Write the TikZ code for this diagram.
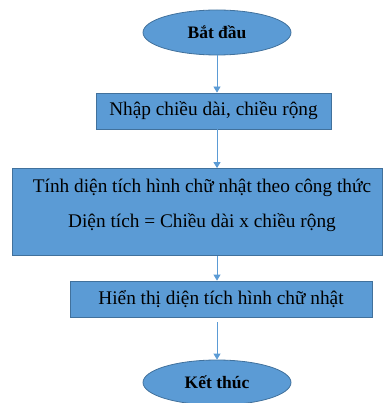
\documentclass[tikz,border=0pt]{standalone}
\usepackage{fontspec}
\setmainfont{Liberation Serif}
\usetikzlibrary{shapes.geometric,arrows.meta}
\definecolor{fillb}{HTML}{5B9BD5}
\definecolor{edgeb}{HTML}{41719C}
\begin{document}
\begin{tikzpicture}[x=1pt,y=-1pt,
 term/.style={ellipse, draw=edgeb, fill=fillb, line width=0.8pt, minimum width=148pt, minimum height=45pt, inner sep=0pt, font=\fontsize{17.5}{17.5}\selectfont\bfseries},
 proc/.style={rectangle, draw=edgeb, fill=fillb, line width=0.8pt, inner sep=0pt, font=\fontsize{19.3}{19.3}\selectfont},
 txt/.style={inner sep=0pt, font=\fontsize{19.3}{19.3}\selectfont},
 conn/.style={draw=fillb, line width=0.8pt, -{Triangle[length=6pt,width=7pt]}}]
\useasboundingbox (0,0) rectangle (383,403);
\node[term] (start) at (217,32.5) {Bắt đầu};
\node[proc, minimum width=235pt, minimum height=36pt] (input) at (213.5,111) {Nhập chiều dài, chiều rộng};
\node[proc, minimum width=370pt, minimum height=87pt] (calc) at (197,212) {};
\node[txt] (calcA) at (202,188) {Tính diện tích hình chữ nhật theo công thức};
\node[txt] (calcB) at (202,223) {Diện tích = Chiều dài x chiều rộng};
\node[proc, minimum width=302pt, minimum height=36pt] (show) at (221,299) {Hiển thị diện tích hình chữ nhật};
\node[term] (end) at (217,382.5) {Kết thúc};
\draw[conn] (start.south) -- (start.south |- input.north);
\draw[conn] (start.south |- input.south) -- (start.south |- calc.north);
\draw[conn] (start.south |- calc.south) -- (start.south |- show.north);
\draw[conn, shorten <=5pt] (start.south |- show.south) -- (end.north);
\end{tikzpicture}
\end{document}
